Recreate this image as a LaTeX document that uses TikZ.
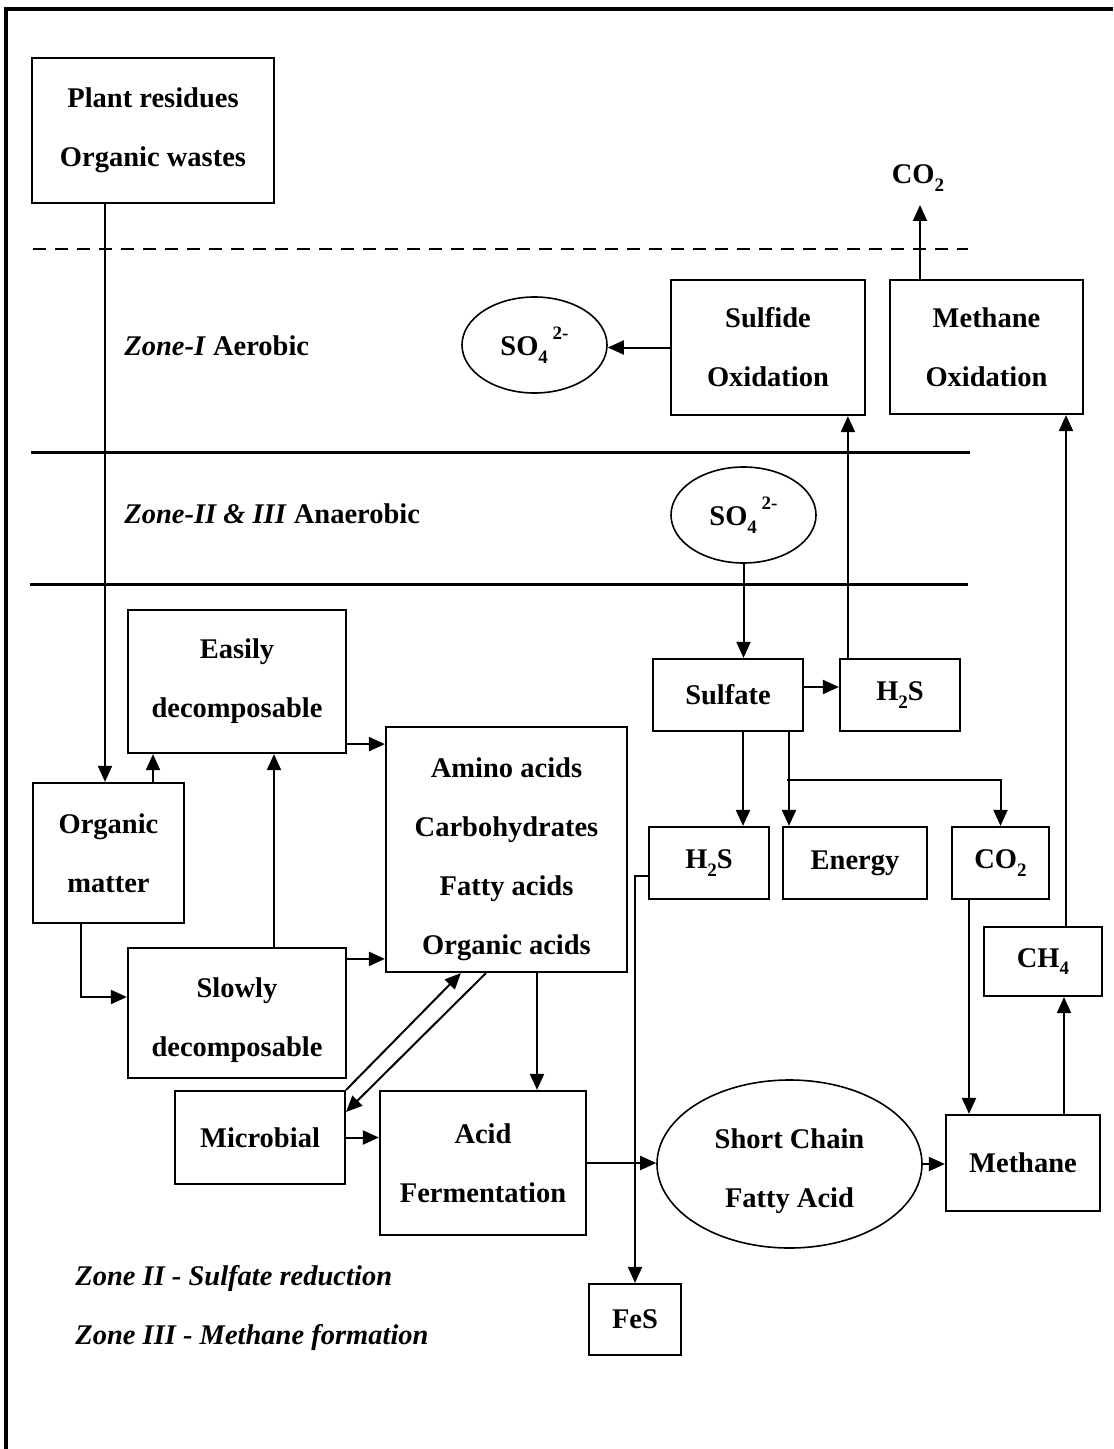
\documentclass[tikz,border=0pt]{standalone}
\usepackage{fontspec}
\setmainfont{Liberation Serif}
\usetikzlibrary{arrows.meta,calc,shapes.geometric}

% chemical indices set in the text font
\newcommand\chemsub[1]{\raisebox{-0.55ex}{\fontsize{9.5pt}{9.5pt}\selectfont #1}}
\newcommand\chemsup[1]{\raisebox{1.25ex}{\fontsize{9.5pt}{9.5pt}\selectfont #1}}

\begin{document}
\begin{tikzpicture}[x=0.5pt,y=-0.5pt,
  every node/.style={font=\fontsize{14.25pt}{29.5pt}\selectfont\bfseries, align=center, inner sep=0pt},
  sz/.style 2 args={minimum width=#1*0.5pt, minimum height=#2*0.5pt},
  box/.style={draw, line width=1.1pt, rectangle},
  oval/.style={draw, line width=0.8pt, ellipse},
  conn/.style={line width=1pt},
  arr/.style={conn, -{Triangle[length=8pt,width=7pt]}},
  zoneline/.style={line width=1.5pt},
  surface/.style={line width=1pt, dash pattern=on 6.5pt off 4.5pt},
]
\useasboundingbox (0,0) rectangle (1113,1449);

% frame
\draw[line width=1.6pt] (6,1449) -- (6,9) -- (1113,9);

% input
\node[box, sz={242}{145}] (plant) at (153,130.5) {Plant residues\\Organic wastes};

% sediment surface and zone boundaries
\draw[surface] (33,249) -- (968,249);
\draw[zoneline] (31,452) -- (970,452);
\draw[zoneline] (30,584) -- (968,584);

% zone I
\node[anchor=base west] (zone1) at (124,356) {\textit{Zone-I} Aerobic};
\node (co2top) at (918,178) {CO\chemsub{2}};
\coordinate (co2tip) at (920,205);
\node[box, sz={194}{135}] (sox) at (768,347.5) {Sulfide\\Oxidation};
\node[box, sz={193}{134}] (mox) at (986.5,347) {Methane\\Oxidation};
\node[oval, sz={145}{96}] (so4a) at (534.5,345) {SO\chemsub{4}\,\chemsup{2-}};

% zone II & III
\node[anchor=base west] (zone23) at (124,523) {\textit{Zone-II \& III} Anaerobic};
\node[oval, sz={145}{96}] (so4b) at (743.5,515) {SO\chemsub{4}\,\chemsup{2-}};

% decomposition
\node[box, sz={218}{143}] (easy) at (237,681.5) {Easily\\decomposable};
\node[box, sz={151}{140}] (om) at (108.5,853) {Organic\\matter};
\node[box, sz={218}{130}] (slow) at (237,1013) {};
\node (slowt) at (237,1020) {Slowly\\decomposable};
\node[box, sz={241}{245}] (amino) at (506.5,849.5) {};
\node (aminot) at (506.5,859) {Amino acids\\Carbohydrates\\Fatty acids\\Organic acids};
\node[box, sz={170}{93}] (micro) at (260,1137.5) {Microbial};
\node[box, sz={206}{144}] (acid) at (483,1163) {Acid\\Fermentation};
\node[oval, sz={265}{168}] (scfa) at (789.5,1164) {};
\node (scfat) at (789.5,1171) {Short Chain\\Fatty Acid};
\node[box, sz={154}{96}] (methane) at (1023,1163) {Methane};
\node[box, sz={118}{69}] (ch4) at (1043,961.5) {CH\chemsub{4}};

% sulfate reduction
\node[box, sz={150}{72}] (sulfate) at (728,695) {Sulfate};
\node[box, sz={120}{72}] (h2su) at (900,695) {H\chemsub{2}S};
\node[box, sz={120}{72}] (h2sl) at (709,863) {H\chemsub{2}S};
\node[box, sz={144}{72}] (energy) at (855,863) {Energy};
\node[box, sz={97}{72}] (co2b) at (1000.5,863) {CO\chemsub{2}};
\node[box, sz={92}{71}] (fes) at (635,1319.5) {FeS};

% legend
\node[anchor=base west] (leg2) at (75,1285) {\textit{Zone II - Sulfate reduction}};
\node[anchor=base west] (leg3) at (75,1344) {\textit{Zone III - Methane formation}};

% connectors
\draw[arr] ($(plant.south)+(-48,0)$) coordinate (a1) -- (a1 |- om.north);
\draw[arr] ($(om.north)+(44.5,0)$) coordinate (a2) -- (a2 |- easy.south);
\draw[arr] ($(om.south)+(-27.5,0)$) |- ($(slow.west)+(0,-16)$);
\draw[arr] ($(slow.north)+(37,0)$) coordinate (a4) -- (a4 |- easy.south);
\draw[arr] ($(easy.south east)+(0,-10)$) coordinate (a5) -- (a5 -| amino.west);
\draw[arr] ($(slow.north east)+(0,12)$) coordinate (a6) -- (a6 -| amino.west);
\draw[arr] (micro.north east) -- ($(amino.south west)+(76,0)$);
\draw[arr] ($(amino.south west)+(101,0)$) -- ($(micro.north east)+(0,22)$);
\draw[arr] (micro.east) -- (micro.east -| acid.west);
\draw[arr] ($(amino.south)+(30.5,0)$) coordinate (a10) -- (a10 |- acid.north);
\draw[arr] (acid.east) -- (acid.east -| scfa.west);
\draw[arr] (scfa.east) -- (scfa.east -| methane.west);
\draw[arr] ($(methane.north)+(41,0)$) coordinate (a13) -- (a13 |- ch4.south);
\draw[arr] ($(ch4.north)+(23,0)$) coordinate (a14) -- (a14 |- mox.south);
\draw[arr] ($(mox.north)+(-66.5,0)$) -- (co2tip);
\draw[arr] (sox.west) -- (sox.west -| so4a.east);
\draw[arr] ($(h2su.north west)+(9,0)$) coordinate (a17) -- (a17 |- sox.south);
\draw[arr] (so4b.south) -- (so4b.south |- sulfate.north);
\draw[arr] ($(sulfate.east)+(0,-8)$) coordinate (a19) -- (a19 -| h2su.west);
\draw[arr] ($(sulfate.south)+(15,0)$) coordinate (a20) -- (a20 |- h2sl.north);
\draw[arr] ($(sulfate.south)+(61,0)$) coordinate (a21) -- (a21 |- energy.north);
\draw[arr] ($(sulfate.south)+(59,48)$) -| (co2b.north);
\draw[arr] ($(co2b.south)+(-31.5,0)$) coordinate (a23) -- (a23 |- methane.north);
\draw[arr] ($(h2sl.west)+(0,13)$) -| (fes.north);

\end{tikzpicture}
\end{document}
